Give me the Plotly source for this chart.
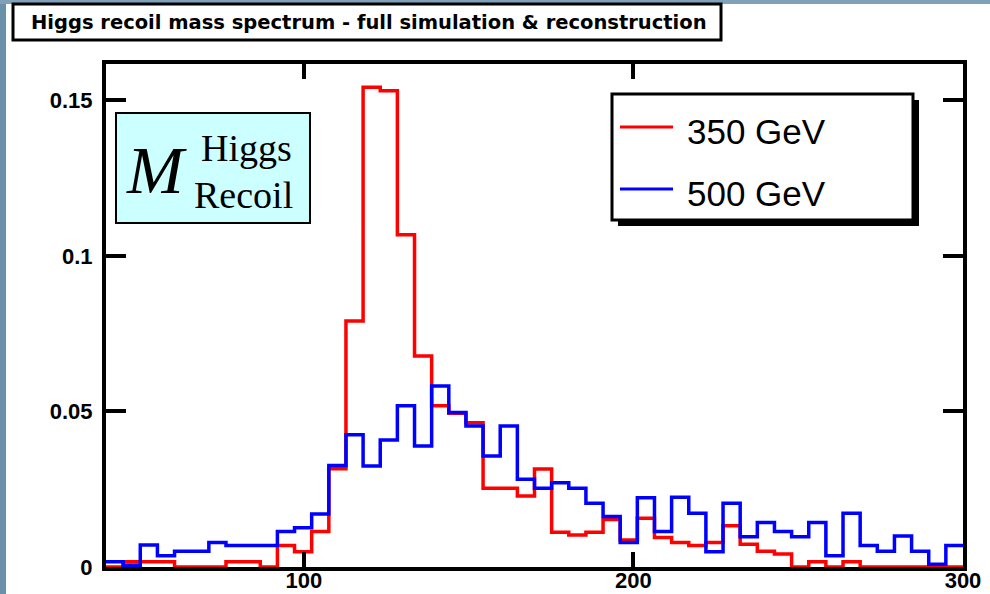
import numpy as np
import plotly.graph_objects as go

# ---------------- data ----------------
x_min, x_max, n_bins = 40.0, 300.0, 50
vals_350 = [0.0, 0.0017, 0.0017, 0.0017, 0.0, 0.0, 0.0, 0.0017, 0.0017, 0.0,
            0.0069, 0.0049, 0.0114, 0.0316, 0.0791, 0.1542, 0.1531, 0.1068, 0.0678, 0.0518,
            0.0494, 0.0464, 0.0253, 0.0253, 0.0228, 0.0315, 0.0112, 0.0103, 0.0112, 0.0153,
            0.0087, 0.0157, 0.0095, 0.0079, 0.0069, 0.0079, 0.0133, 0.0073, 0.0051, 0.0042,
            0.0, 0.0017, 0.0, 0.0017, 0.0, 0.0, 0.0, 0.0, 0.0, 0.0]
vals_500 = [0.0017, 0.0006, 0.0071, 0.0036, 0.0051, 0.0051, 0.0079, 0.0069, 0.0069, 0.0069,
            0.0114, 0.0126, 0.0170, 0.0326, 0.0425, 0.0325, 0.0408, 0.0518, 0.0389, 0.0582,
            0.0497, 0.0453, 0.0357, 0.0453, 0.0282, 0.0253, 0.0271, 0.0253, 0.0205, 0.0162,
            0.0079, 0.0223, 0.0114, 0.0224, 0.0173, 0.0049, 0.0205, 0.0097, 0.0143, 0.0114,
            0.0097, 0.0143, 0.0036, 0.0173, 0.0069, 0.0051, 0.0100, 0.0051, 0.0009, 0.0069]
series_names = ["350 GeV", "500 GeV"]
series_colors = ["#ff0000", "#0000ff"]
x_tickvals = [100, 200, 300]
y_tickvals = [0, 0.05, 0.1, 0.15]
y_ticktext = ["0", "0.05", "0.1", "0.15"]
y_max = 0.1617
title_text = "Higgs recoil mass spectrum - full simulation & reconstruction"

edges = np.linspace(x_min, x_max, n_bins + 1)


def step_xy(vals):
    xs = list(edges)
    ys = list(vals) + [vals[-1]]
    return xs, ys


# ---------------- geometry helpers (pixel -> paper) ----------------
WIDTH, HEIGHT = 990, 594
L, R, T, B = 106, 963, 64, 567
PW, PH = R - L, B - T


def fx(px):
    return (px - L) / PW


def fy(py):
    return (B - py) / PH


fig = go.Figure()
for vals, name, col in zip([vals_350, vals_500], series_names, series_colors):
    xs, ys = step_xy(vals)
    fig.add_trace(go.Scatter(x=xs, y=ys, mode="lines", line_shape="hv",
                             line=dict(color=col, width=3.5), name=name,
                             showlegend=False, hoverinfo="skip"))

SANS = "Liberation Sans, Arial, sans-serif"
WIDE = "DejaVu Sans, Verdana, sans-serif"
SERIF = "Liberation Serif, Times New Roman, serif"

shapes = []
annotations = []

# background strips (photo behind the slide)
shapes.append(dict(type="rect", xref="paper", yref="paper", x0=fx(0), x1=fx(6), y0=fy(594), y1=fy(0),
                   fillcolor="#6a90aa", line=dict(width=0), layer="below"))
shapes.append(dict(type="rect", xref="paper", yref="paper", x0=fx(0), x1=fx(990), y0=fy(4), y1=fy(0),
                   fillcolor="#7fa2ba", line=dict(width=0), layer="below"))

# title box
shapes.append(dict(type="rect", xref="paper", yref="paper", x0=fx(13), x1=fx(721), y0=fy(40), y1=fy(4),
                   fillcolor="white", line=dict(color="black", width=3)))
annotations.append(dict(text=title_text, xref="paper", yref="paper", x=fx(29), y=fy(23),
                        xanchor="left", yanchor="middle", showarrow=False,
                        font=dict(family=WIDE, size=19.5, color="black", weight="bold")))

# legend (shadow + box + samples + labels)
shapes.append(dict(type="rect", xref="paper", yref="paper", x0=fx(618), x1=fx(919), y0=fy(226), y1=fy(100),
                   fillcolor="black", line=dict(width=0)))
shapes.append(dict(type="rect", xref="paper", yref="paper", x0=fx(612), x1=fx(913), y0=fy(220), y1=fy(94),
                   fillcolor="white", line=dict(color="black", width=3)))
for i, (name, col) in enumerate(zip(series_names, series_colors)):
    yy = [127, 189][i]
    yt = [131, 193][i]
    shapes.append(dict(type="line", xref="paper", yref="paper", x0=fx(620), x1=fx(673), y0=fy(yy), y1=fy(yy),
                       line=dict(color=col, width=3)))
    annotations.append(dict(text=name, xref="paper", yref="paper", x=fx(685), y=fy(yt),
                            xanchor="left", yanchor="middle", showarrow=False,
                            font=dict(family=SANS, size=35, color="black")))

# cyan label box
shapes.append(dict(type="rect", xref="paper", yref="paper", x0=fx(116), x1=fx(310), y0=fy(223), y1=fy(113),
                   fillcolor="#ccffff", line=dict(color="black", width=2)))
annotations.append(dict(text="<i>M</i>", xref="paper", yref="paper", x=fx(124), y=fy(170),
                        xanchor="left", yanchor="middle", showarrow=False,
                        font=dict(family=SERIF, size=68, color="black")))
annotations.append(dict(text="Higgs", xref="paper", yref="paper", x=fx(199), y=fy(148),
                        xanchor="left", yanchor="middle", showarrow=False,
                        font=dict(family=SERIF, size=38, color="black")))
annotations.append(dict(text="Recoil", xref="paper", yref="paper", x=fx(192), y=fy(195),
                        xanchor="left", yanchor="middle", showarrow=False,
                        font=dict(family=SERIF, size=38, color="black")))

axis_common = dict(showline=True, linecolor="black", linewidth=4, mirror="ticks",
                   ticks="inside", tickcolor="black", tickwidth=4,
                   showgrid=False, zeroline=False, automargin=False,
                   tickfont=dict(family=SANS, size=22, color="black", weight="bold"))

fig.update_layout(
    width=WIDTH, height=HEIGHT,
    margin=dict(l=L, r=WIDTH - R, t=T, b=HEIGHT - B, pad=0, autoexpand=False),
    paper_bgcolor="white", plot_bgcolor="white",
    showlegend=False,
    xaxis=dict(range=[x_min, x_max], tickmode="array", tickvals=x_tickvals,
               ticktext=[str(v) for v in x_tickvals], ticklen=15, ticklabelstandoff=-9,
               **axis_common),
    yaxis=dict(range=[0, y_max], tickmode="array", tickvals=y_tickvals,
               ticktext=y_ticktext, ticklen=20, ticklabelstandoff=5,
               **axis_common),
    shapes=shapes,
    annotations=annotations,
)

fig.write_html("out.html")
